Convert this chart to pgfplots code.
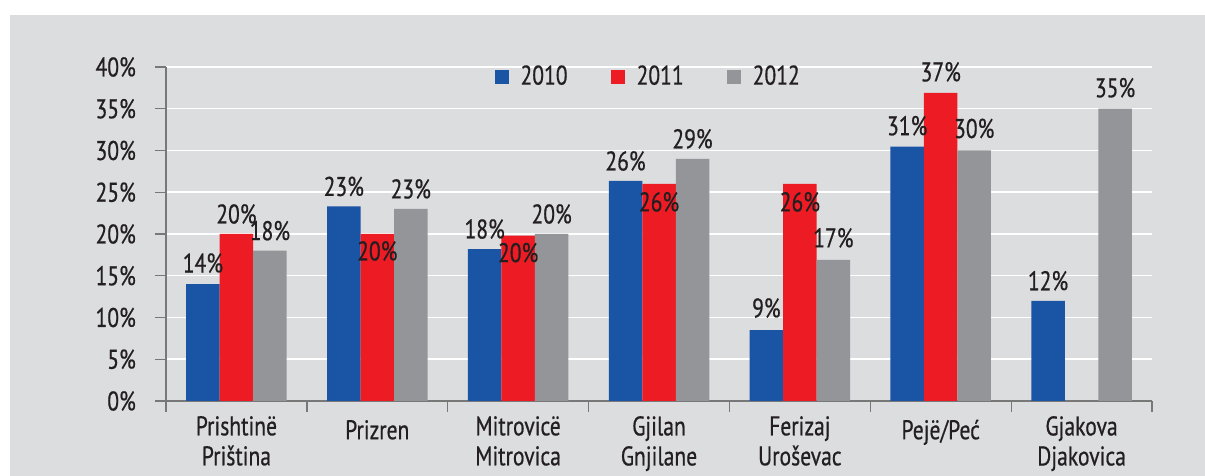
\documentclass[border=0pt]{standalone}
\usepackage{fontspec}
\setmainfont[FakeStretch=0.8, FakeBold=0.6]{PT Sans}
\usepackage{pgfplots}
\usepackage{pgfplotstable}
\pgfplotsset{compat=1.18}
\definecolor{bg}{RGB}{220,221,223}
\definecolor{cblue}{RGB}{26,84,164}
\definecolor{cred}{RGB}{237,28,36}
\definecolor{cgray}{RGB}{147,149,152}
\definecolor{txt}{RGB}{35,31,32}
\definecolor{axisgray}{RGB}{120,120,120}

\pgfplotstableread{
x y dy lab
0.5 14.0 21 14
1.5 23.3 20 23
2.5 18.2 20 18
3.5 26.35 20 26
4.5 8.5 22 9
5.5 30.45 21 31
6.5 12.0 20 12
}\dataA
\pgfplotstableread{
x y dy lab
0.5 20.0 20 20
1.5 20.0 -17 20
2.5 19.8 -17 20
3.5 26.0 -18 26
4.5 26.0 -18 26
5.5 36.9 21 37
}\dataB
\pgfplotstableread{
x y dy lab
0.5 18.0 20 18
1.5 23.0 20 23
2.5 20.0 20 20
3.5 29.0 20 29
4.5 16.9 22 17
5.5 30.0 22 30
6.5 35.0 21 35
}\dataC

\begin{document}
\fontsize{27}{30}\selectfont
\begin{tikzpicture}[font=\fontsize{27}{30}\selectfont]
\path[use as bounding box] (-166pt,-75pt) rectangle (1039pt,401pt);
\fill[white] (-166pt,-75pt) rectangle (1039pt,401pt);
\fill[bg] (-156pt,-75pt) rectangle (1039pt,386pt);
\begin{axis}[
  at={(0pt,0pt)}, anchor=south west,
  scale only axis, width=986pt, height=334pt,
  xmin=0, xmax=7, ymin=0, ymax=40,
  ybar=0pt, bar width=33.5pt,
  axis lines*=left,
  axis line style={axisgray, line width=1.3pt},
  tick style={axisgray, line width=1.3pt},
  tick align=outside, major tick length=11pt,
  xtick={0,1,...,7}, xticklabels={,,,,,,,},
  extra x ticks={0.5,1.5,...,6.5},
  extra x tick labels={{Prishtinë\\Priština},{\rule{0pt}{23pt}Prizren},{Mitrovicë\\Mitrovica},{Gjilan\\Gnjilane},{Ferizaj\\Uroševac},{\rule{0pt}{23pt}Pejë/Peć},{Gjakova\\Djakovica}},
  extra x tick style={major tick length=0pt, grid=none},
  xticklabel style={align=center, anchor=north, yshift=-6pt, text=txt, font=\fontsize{27}{30}\selectfont},
  ytick={0,5,...,40},
  yticklabels={0\%,5\%,10\%,15\%,20\%,25\%,30\%,35\%,40\%},
  yticklabel style={text=txt, xshift=-10pt, font=\fontsize{27}{30}\selectfont},
  ymajorgrids, grid style={white, line width=1.5pt},
  point meta=explicit symbolic,
  nodes near coords={\pgfplotspointmeta\%},
  visualization depends on={\thisrow{dy} \as \dy},
  every node near coord/.append style={anchor=center, yshift=\dy, text=txt, font=\fontsize{27}{30}\selectfont},
  legend columns=3,
  legend style={draw=none, fill=none, at={(0.489,0.970)}, anchor=center,
    font=\fontsize{27}{30}\selectfont, text=txt,
    /tikz/every even column/.append style={column sep=41pt}},
  legend image code/.code={\fill[#1] (0pt,-7pt) rectangle (14pt,7pt); \path (24pt,0pt);},
]
\addplot[fill=cblue, draw=none] table[x=x, y=y, meta=lab] {\dataA};
\addplot[fill=cred, draw=none] table[x=x, y=y, meta=lab] {\dataB};
\addplot[fill=cgray, draw=none] table[x=x, y=y, meta=lab] {\dataC};
\legend{2010,2011,2012}
\end{axis}
\end{tikzpicture}
\end{document}
